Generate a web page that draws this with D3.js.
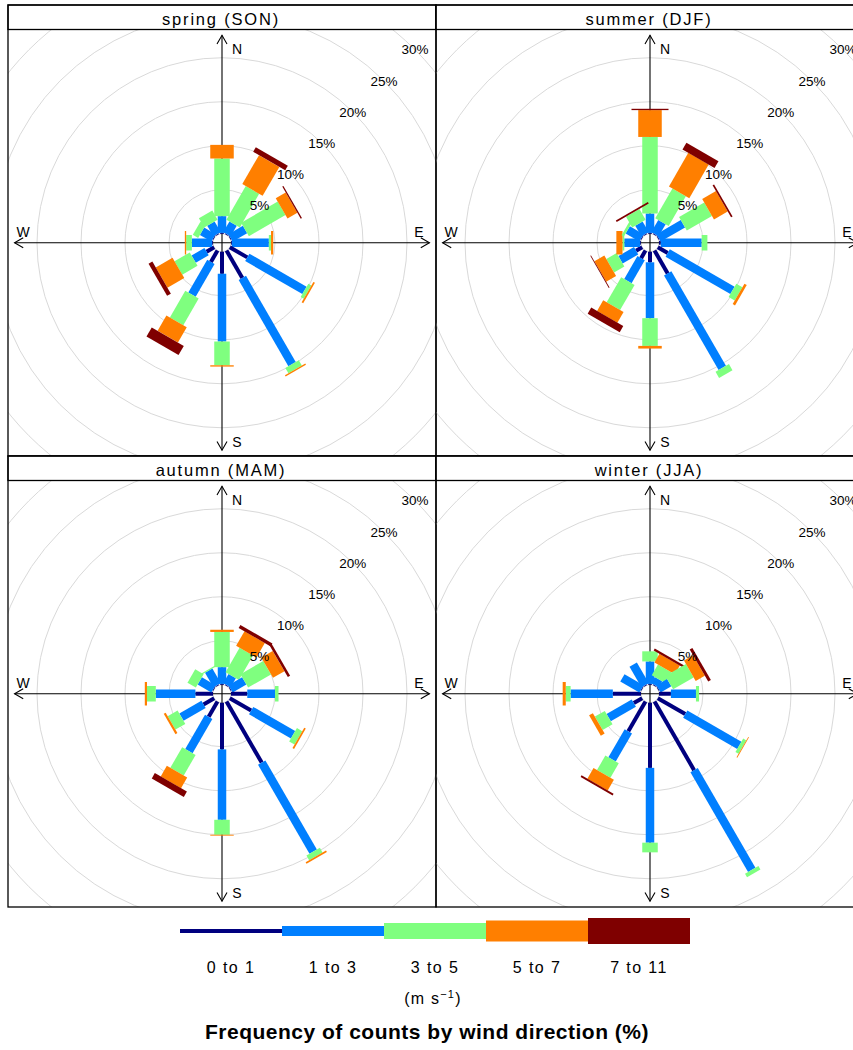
<!DOCTYPE html>
<html>
<head>
<meta charset="utf-8">
<script src="https://cdn.jsdelivr.net/npm/d3@7"></script>
<style>
  body { margin: 0; background: #fff; }
  svg { display: block; }
</style>
</head>
<body>
<svg id="chart" width="853" height="1050"></svg>
<script>
// Wind direction sectors (degrees clockwise from north)
const directions = [0, 30, 60, 90, 120, 150, 180, 210, 240, 270, 300, 330];
// Wind speed classes (m/s)
const speedBins = ["0 to 1", "1 to 3", "3 to 5", "5 to 7", "7 to 11"];
const binColours = ["#00007F", "#007FFF", "#7FFF7F", "#FF7F00", "#7F0000"];
const seasons = ["spring (SON)", "summer (DJF)", "autumn (MAM)", "winter (JJA)"];
const ringTicks = [5, 10, 15, 20, 25, 30];

// Frequency (%) of counts per direction (rows) and speed class (columns)
const springFreq = [
  [0.1, 1.9, 6.55, 1.55, 0],
  [0.1, 1.4, 4.4, 3.8, 0.6],
  [0.1, 1.9, 4.8, 1.3, 0.15],
  [0.1, 4.2, 0.25, 0.25, 0],
  [2.3, 7.5, 0.4, 0.2, 0],
  [3.6, 11.3, 0.7, 0.15, 0],
  [2.5, 7.7, 2.7, 0.15, 0],
  [1.5, 4.3, 3.5, 2.0, 1.2],
  [1.0, 1.7, 2.0, 2.2, 0.5],
  [0.1, 2.3, 0.65, 0.15, 0],
  [0.1, 1.5, 0.7, 0, 0],
  [0.1, 1.4, 1.2, 0, 0]
];
const summerFreq = [
  [0.1, 2.2, 8.7, 3.05, 0.15],
  [0.1, 1.6, 3.9, 4.4, 0.9],
  [0.1, 3.2, 3.3, 1.8, 0.2],
  [0.2, 4.65, 0.65, 0, 0],
  [1.3, 8.5, 0.8, 0.3, 0],
  [3.0, 12.4, 0.8, 0, 0],
  [1.2, 6.35, 3.15, 0.3, 0],
  [1.0, 3.0, 3.3, 1.4, 0.8],
  [0.8, 2.05, 1.35, 1.3, 0.1],
  [0.1, 1.8, 0.2, 0.7, 0],
  [0.1, 1.8, 0.3, 0, 0],
  [0.1, 1.4, 1.4, 0, 0.2]
];
const autumnFreq = [
  [0.1, 1.9, 4.0, 0.25, 0],
  [0.1, 1.2, 3.2, 1.9, 0.4],
  [0.1, 1.8, 3.0, 1.5, 0.3],
  [1.85, 3.15, 0.4, 0, 0],
  [2.8, 5.5, 0.7, 0.2, 0],
  [8.0, 11.7, 0.6, 0.2, 0],
  [5.3, 8.0, 1.7, 0.1, 0],
  [2.0, 4.5, 2.7, 1.4, 0.7],
  [1.4, 2.9, 1.3, 0.25, 0],
  [2.0, 4.5, 1.0, 0.25, 0],
  [0.1, 1.8, 1.1, 0, 0],
  [0.1, 1.9, 0.15, 0, 0]
];
const winterFreq = [
  [0.1, 2.55, 1.15, 0, 0],
  [0.1, 0.8, 1.4, 1.15, 0.25],
  [0.1, 1.4, 2.7, 1.2, 0.35],
  [1.35, 2.85, 0.35, 0, 0],
  [3.6, 7.1, 0.4, 0.1, 0],
  [9.0, 13.1, 0.45, 0, 0],
  [7.4, 8.5, 1.1, 0, 0],
  [3.9, 3.7, 1.9, 1.4, 0.2],
  [1.1, 3.3, 1.3, 0.5, 0],
  [3.2, 4.8, 0.55, 0.35, 0],
  [0.1, 2.5, 0, 0, 0],
  [0.1, 2.7, 0, 0, 0]
];
const seasonFreq = [springFreq, summerFreq, autumnFreq, winterFreq];

// ---- layout ----
const W = 853, H = 1050;
const panelW = 428, panelH = 451, stripH = 24.5;
const gridLeft = 8, gridTop = 5;
const paddleWidth = [4, 8.5, 15.5, 23.5, 37];
const legendThick = [4, 10, 16, 21, 26];
const font = "'Liberation Sans', Arial, Helvetica, sans-serif";

const svg = d3.select("#chart");
svg.append("rect").attr("width", W).attr("height", H).attr("fill", "#fff");

// radial scale: frequency (%) -> distance from centre, with a small hole
const r = d3.scaleLinear().domain([0, 30]).range([9, 273]);

// stacked extents per season / direction
const stacked = seasonFreq.map(tbl => tbl.map(row => {
  const cum = d3.cumsum(row);
  return row.map((v, k) => ({ bin: k, from: k === 0 ? 0 : cum[k - 1], to: cum[k] }));
}));
const maxTotal = d3.max(seasonFreq, tbl => d3.max(tbl, row => d3.sum(row)));
const upper = r(maxTotal);

const defs = svg.append("defs");

seasons.forEach((name, i) => {
  const col = i % 2, row = Math.floor(i / 2);
  const x0 = gridLeft + col * panelW, y0 = gridTop + row * panelH;
  const plotTop = y0 + stripH, plotH = panelH - stripH;
  const cx = x0 + panelW / 2, cy = plotTop + plotH / 2;

  const clipId = "clip" + i;
  defs.append("clipPath").attr("id", clipId)
    .append("rect").attr("x", x0).attr("y", plotTop).attr("width", panelW).attr("height", plotH);

  const g = svg.append("g").attr("clip-path", `url(#${clipId})`);

  // grid rings
  g.selectAll("circle.ring").data([0].concat(ringTicks)).join("circle")
    .attr("class", "ring")
    .attr("cx", cx).attr("cy", cy).attr("r", d => r(d))
    .attr("fill", "none").attr("stroke", "#d9d9d9").attr("stroke-width", 1);

  // compass axes with arrows at both ends
  const ax = g.append("g").attr("stroke", "#000").attr("stroke-width", 1.1).attr("fill", "none");
  ax.append("line").attr("x1", cx - upper).attr("x2", cx + upper).attr("y1", cy).attr("y2", cy);
  ax.append("line").attr("x1", cx).attr("x2", cx).attr("y1", cy - upper).attr("y2", cy + upper);
  const headLen = 10, headAng = Math.PI / 6;
  [[cx + upper, cy, 0], [cx - upper, cy, Math.PI], [cx, cy - upper, -Math.PI / 2], [cx, cy + upper, Math.PI / 2]]
    .forEach(([tx, ty, a]) => {
      const p1 = [tx - headLen * Math.cos(a - headAng), ty - headLen * Math.sin(a - headAng)];
      const p2 = [tx - headLen * Math.cos(a + headAng), ty - headLen * Math.sin(a + headAng)];
      ax.append("path").attr("d", `M${p1[0]},${p1[1]}L${tx},${ty}L${p2[0]},${p2[1]}`);
    });

  // paddles
  const spokes = g.selectAll("g.spoke").data(stacked[i]).join("g")
    .attr("class", "spoke")
    .attr("transform", (d, k) => `translate(${cx},${cy}) rotate(${directions[k]})`);
  spokes.selectAll("rect").data(d => d.filter(s => s.to > s.from)).join("rect")
    .attr("x", s => -paddleWidth[s.bin] / 2)
    .attr("width", s => paddleWidth[s.bin])
    .attr("y", s => -r(s.to))
    .attr("height", s => r(s.to) - r(s.from))
    .attr("fill", s => binColours[s.bin]);

  // ring labels along 45 degrees
  g.selectAll("text.ringlab").data(ringTicks).join("text")
    .attr("class", "ringlab")
    .attr("x", d => cx + r(d) * Math.SQRT1_2)
    .attr("y", d => cy - r(d) * Math.SQRT1_2)
    .attr("dy", "0.35em")
    .attr("text-anchor", "middle")
    .attr("font-family", font).attr("font-size", 13.5)
    .attr("fill", "#000")
    .text(d => d + "%");

  // compass letters
  const compass = [
    { t: "N", x: cx + 15, y: cy - 194 },
    { t: "S", x: cx + 15, y: cy + 199 },
    { t: "W", x: cx - 199, y: cy - 11 },
    { t: "E", x: cx + 197, y: cy - 11 }
  ];
  g.selectAll("text.compass").data(compass).join("text")
    .attr("class", "compass")
    .attr("x", d => d.x).attr("y", d => d.y).attr("dy", "0.36em")
    .attr("text-anchor", "middle")
    .attr("font-family", font).attr("font-size", 14)
    .text(d => d.t);

  // strip
  svg.append("rect").attr("x", x0).attr("y", y0).attr("width", panelW).attr("height", stripH)
    .attr("fill", "#fff").attr("stroke", "#000").attr("stroke-width", 1.3);
  svg.append("text")
    .attr("x", cx - 1).attr("y", y0 + 19.5)
    .attr("text-anchor", "middle")
    .attr("font-family", font).attr("font-size", 16.5).attr("letter-spacing", 1.8)
    .text(name);

  // panel border
  svg.append("rect").attr("x", x0).attr("y", y0).attr("width", panelW).attr("height", panelH)
    .attr("fill", "none").attr("stroke", "#000").attr("stroke-width", 1.3);
});

// ---- legend ----
const lx = d3.scaleBand().domain(speedBins).range([180, 690]);
const legY = 931;
const leg = svg.append("g");
leg.selectAll("rect").data(speedBins).join("rect")
  .attr("x", d => lx(d)).attr("width", lx.bandwidth())
  .attr("y", (d, k) => legY - legendThick[k] / 2)
  .attr("height", (d, k) => legendThick[k])
  .attr("fill", (d, k) => binColours[k]);
leg.selectAll("text").data(speedBins).join("text")
  .attr("x", d => lx(d) + lx.bandwidth() / 2)
  .attr("y", 973)
  .attr("text-anchor", "middle")
  .attr("font-family", font).attr("font-size", 16).attr("letter-spacing", 1.4)
  .text(d => d);

const unit = svg.append("text")
  .attr("x", 433).attr("y", 1004)
  .attr("text-anchor", "middle")
  .attr("font-family", font).attr("font-size", 16).attr("letter-spacing", 1.2);
unit.append("tspan").text("(m s");
unit.append("tspan").attr("dy", -6).attr("font-size", 11).text("\u22121");
unit.append("tspan").attr("dy", 6).text(")");

svg.append("text")
  .attr("x", 427).attr("y", 1039)
  .attr("text-anchor", "middle")
  .attr("font-family", font).attr("font-size", 21).attr("font-weight", "bold")
  .attr("letter-spacing", 0.5)
  .text("Frequency of counts by wind direction (%)");
</script>
</body>
</html>
